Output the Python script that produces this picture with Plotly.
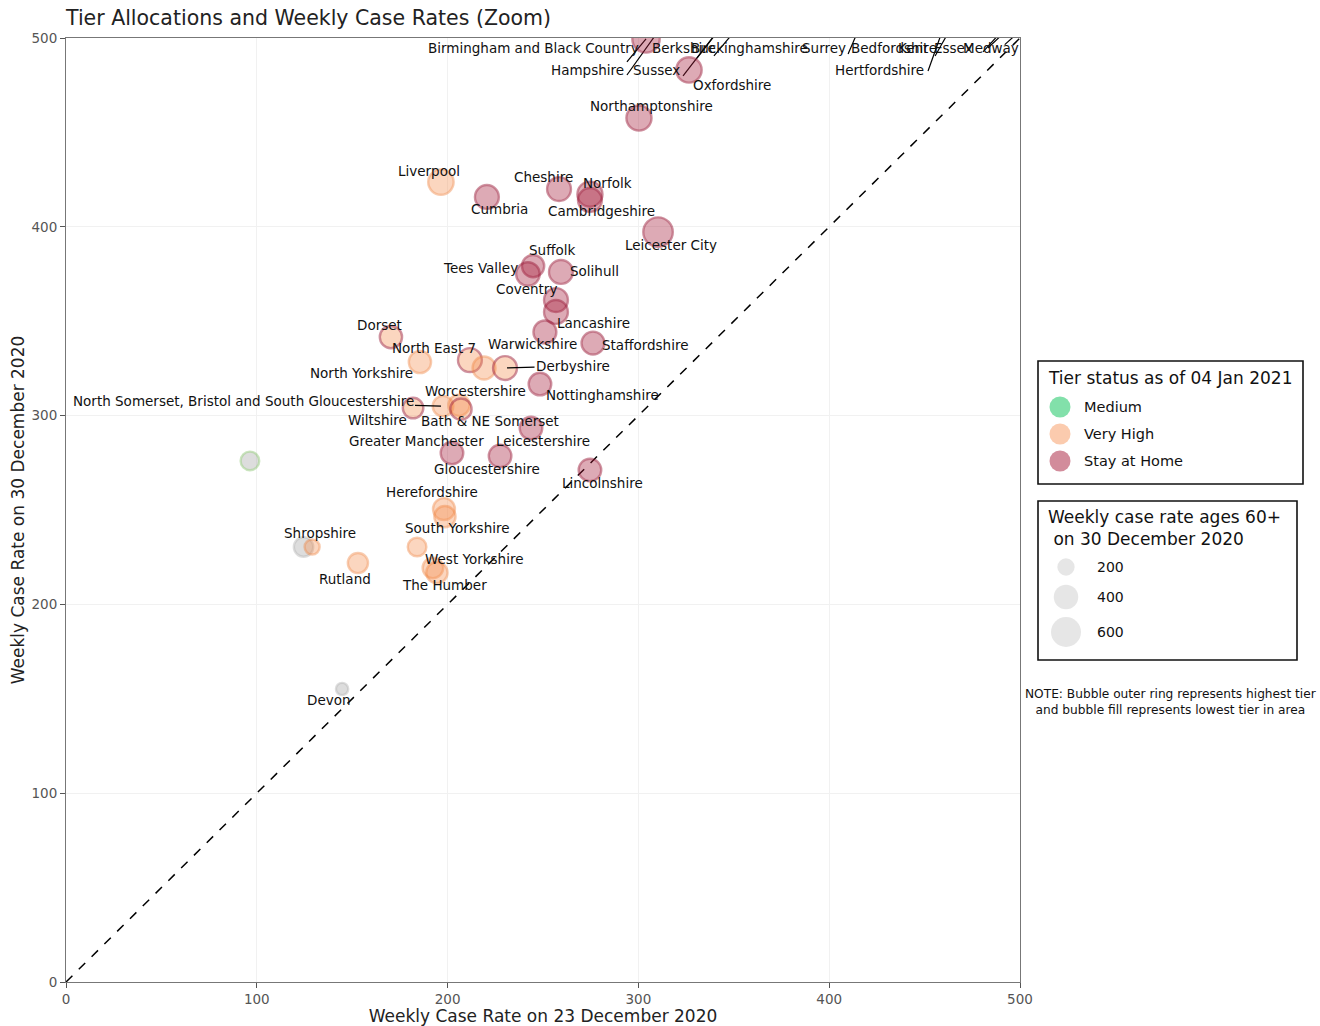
import plotly.graph_objects as go

# ---------------- data ----------------
names = [
    "Liverpool", "Cumbria", "Cheshire", "Norfolk", "Cambridgeshire", "Leicester City",
    "Northamptonshire", "Oxfordshire", "Suffolk", "Tees Valley", "Solihull", "Coventry",
    "Lancashire", "Warwickshire", "Staffordshire", "Dorset", "North Yorkshire", "North East 7",
    "", "Derbyshire", "Nottinghamshire",
    "North Somerset, Bristol and South Gloucestershire", "Worcestershire", "Bath & NE Somerset",
    "Wiltshire", "Leicestershire", "Gloucestershire", "Greater Manchester", "Lincolnshire",
    "Herefordshire", "", "South Yorkshire", "West Yorkshire", "The Humber", "Rutland",
    "Shropshire", "", "Devon", "",
]
x_dec23 = [
    196.5, 220.6, 258.4, 274.6, 274.6, 310.3,
    300.3, 326.5, 244.8, 242.1, 259.4, 256.8,
    256.8, 251.0, 276.2, 170.3, 185.5, 211.7,
    219.1, 230.1, 248.4,
    197.6, 206.0, 207.0,
    181.9, 243.7, 227.5, 202.3, 274.6,
    198.1, 198.6, 184.0, 192.3, 194.4, 153.0,
    124.5, 129.0, 144.7, 96.4,
]
y_dec30 = [
    423.7, 415.8, 420.0, 417.3, 414.2, 397.2,
    457.6, 483.1, 379.2, 375.0, 376.1, 361.2,
    354.9, 344.3, 338.4, 341.6, 328.4, 329.4,
    325.2, 325.2, 316.7,
    305.0, 305.5, 303.4,
    304.0, 293.4, 278.6, 280.2, 271.2,
    250.5, 246.5, 230.4, 219.3, 216.8, 221.9,
    230.4, 230.4, 155.2, 276.0,
]
rate60 = [
    430, 380, 380, 420, 380, 580,
    420, 430, 330, 370, 380, 380,
    380, 350, 350, 330, 330, 380,
    350, 380, 340,
    280, 300, 300,
    280, 340, 340, 340, 340,
    320, 300, 230, 280, 300, 270,
    250, 150, 100, 230,
]
fill_tier = [
    "Very High", "Stay at Home", "Stay at Home", "Stay at Home", "Stay at Home", "Stay at Home",
    "Stay at Home", "Stay at Home", "Stay at Home", "Stay at Home", "Stay at Home", "Stay at Home",
    "Stay at Home", "Stay at Home", "Stay at Home", "Very High", "Very High", "Very High",
    "Very High", "Very High", "Stay at Home",
    "Very High", "Very High", "Very High",
    "Very High", "Stay at Home", "Stay at Home", "Stay at Home", "Stay at Home",
    "Very High", "Very High", "Very High", "Very High", "Very High", "Very High",
    "N/A", "Very High", "N/A", "N/A",
]
ring_tier = [
    "Very High", "Stay at Home", "Stay at Home", "Stay at Home", "Stay at Home", "Stay at Home",
    "Stay at Home", "Stay at Home", "Stay at Home", "Stay at Home", "Stay at Home", "Stay at Home",
    "Stay at Home", "Stay at Home", "Stay at Home", "Stay at Home", "Very High", "Stay at Home",
    "Very High", "Stay at Home", "Stay at Home",
    "Very High", "Very High", "Stay at Home",
    "Stay at Home", "Stay at Home", "Stay at Home", "Stay at Home", "Stay at Home",
    "Very High", "Very High", "Very High", "Very High", "Very High", "Very High",
    "N/A", "Very High", "N/A", "Medium",
]

# areas whose rates lie at / beyond the top of the zoomed view
top_names = [
    "Birmingham and Black Country", "Hampshire", "Sussex", "Berkshire", "Buckinghamshire",
    "Surrey", "Bedfordshire", "Kent", "Essex", "Medway", "Hertfordshire",
]
top_x = [304.0, 322.0, 354.0, 356.0, 364.0, 422.0, 472.0, 505.0, 520.0, 540.0, 465.0]
top_y = [499.5, 520.0, 520.0, 522.0, 520.0, 520.0, 520.0, 520.0, 530.0, 540.0, 520.0]
top_rate60 = [500, 450, 430, 450, 450, 450, 450, 450, 450, 450, 450]
top_fill = ["Stay at Home"] * 11
top_ring = ["Stay at Home"] * 11

diag = [0, 500]
axis_ticks = [0, 100, 200, 300, 400, 500]
tiers = ["Medium", "Very High", "Stay at Home"]
size_legend_values = [200, 400, 600]

# ---------------- styling ----------------
FILL = {"Medium": "rgba(46,204,113,0.55)", "Very High": "rgba(246,140,75,0.5)",
        "Stay at Home": "rgba(165,25,55,0.52)", "N/A": "rgba(150,150,150,0.45)"}
RING = {"Medium": "rgba(120,190,90,0.55)", "Very High": "rgba(240,130,60,0.58)",
        "Stay at Home": "rgba(150,20,50,0.65)", "N/A": "rgba(150,150,150,0.45)"}
LEG_FILL = {"Medium": "rgba(46,204,113,0.6)", "Very High": "rgba(246,140,75,0.45)",
            "Stay at Home": "rgba(165,25,55,0.5)"}
SIZEREF = 2 * 600 / 30 ** 2
FONT = "DejaVu Sans"
LBL = 13.5

W, H = 1320, 1026
ML, MT = 66, 38
PW, PH = 954, 944

# label offsets (pixels, dx right, dy down) relative to bubble centre
label_offsets = {
    "Liverpool": (-12, -11), "Cumbria": (13, 12), "Cheshire": (-16, -12), "Norfolk": (18, -11),
    "Cambridgeshire": (12, 11), "Leicester City": (13, 13), "Northamptonshire": (13, -12),
    "Oxfordshire": (43, 15), "Suffolk": (19, -16), "Tees Valley": (-47, -6), "Solihull": (34, -1),
    "Coventry": (-29, -11), "Lancashire": (38, 11), "Warwickshire": (-12, 12),
    "Staffordshire": (52, 2), "Dorset": (-11, -12), "North Yorkshire": (-58, 11),
    "North East 7": (-36, -12), "Nottinghamshire": (63, 11), "Worcestershire": (16, -14),
    "Bath & NE Somerset": (29, 12), "Wiltshire": (-36, 12), "Leicestershire": (12, 13),
    "Gloucestershire": (-13, 13), "Greater Manchester": (-35, -12), "Lincolnshire": (13, 13),
    "Herefordshire": (-12, -17), "South Yorkshire": (40, -19), "West Yorkshire": (41, -9),
    "The Humber": (8, 12), "Rutland": (-13, 16), "Shropshire": (16, -14), "Devon": (-13, 11),
}
arrow_labels = {"Derbyshire": (68, -2),
                "North Somerset, Bristol and South Gloucestershire": (-200, -5)}
# text position and connector start (data coords) for labels at the top edge
top_label_place = {
    "Birmingham and Black Country": (244.8, 494.7, 294.0, 487.3),
    "Hampshire": (273.1, 483.1, 294.0, 480.4),
    "Sussex": (309.7, 483.1, 323.4, 479.9),
    "Berkshire": (323.9, 494.7, 330.7, 489.4),
    "Buckinghamshire": (358.0, 494.7, 339.6, 490.5),
    "Surrey": (397.3, 494.7, 409.9, 491.5),
    "Bedfordshire": (434.0, 494.7, 455.5, 490.5),
    "Kent": (443.9, 494.7, 480.6, 492.6),
    "Essex": (464.9, 494.7, 483.2, 494.7),
    "Medway": (484.8, 494.7, 492.0, 496.5),
    "Hertfordshire": (426.6, 483.1, 451.8, 482.5),
}

fig = go.Figure()

# diagonal y = x
fig.add_trace(go.Scatter(x=diag, y=diag, mode="lines",
                         line=dict(color="black", width=1.5, dash="dash"),
                         hoverinfo="skip", showlegend=False))

# connectors for top labels
cx, cy = [], []
for n, px_, py_ in zip(top_names, top_x, top_y):
    tx, ty, lx, ly = top_label_place[n]
    cx += [lx, px_, None]
    cy += [ly, py_, None]
fig.add_trace(go.Scatter(x=cx, y=cy, mode="lines", line=dict(color="black", width=1.2),
                         hoverinfo="skip", showlegend=False))

all_names = names + top_names
all_x = x_dec23 + top_x
all_y = y_dec30 + top_y
all_rate = rate60 + top_rate60
all_fill = fill_tier + top_fill
all_ring = ring_tier + top_ring

fig.add_trace(go.Scatter(
    x=all_x, y=all_y, mode="markers", text=all_names,
    marker=dict(size=all_rate, sizemode="area", sizeref=SIZEREF,
                color=[FILL[t] for t in all_fill],
                line=dict(color=[RING[t] for t in all_ring], width=2.4)),
    hovertemplate="%{text}<br>23 Dec: %{x}<br>30 Dec: %{y}<extra></extra>",
    showlegend=False, cliponaxis=True))

annotations = []
for n, xv, yv in zip(names, x_dec23, y_dec30):
    if n in label_offsets:
        dx, dy = label_offsets[n]
        annotations.append(dict(x=xv, y=yv, xref="x", yref="y", text=n, showarrow=False,
                                xshift=dx, yshift=-dy, font=dict(size=LBL, color="#111", family=FONT)))
    elif n in arrow_labels:
        ax_, ay_ = arrow_labels[n]
        annotations.append(dict(x=xv, y=yv, xref="x", yref="y", text=n, showarrow=True,
                                ax=ax_, ay=ay_, arrowhead=0, arrowwidth=1.2, arrowcolor="black",
                                standoff=2, font=dict(size=LBL, color="#111", family=FONT)))
for n in top_names:
    tx, ty, lx, ly = top_label_place[n]
    annotations.append(dict(x=tx, y=ty, xref="x", yref="y", text=n, showarrow=False,
                            font=dict(size=LBL, color="#111", family=FONT)))

# ---------------- manual legends (on a hidden axis scaled in page pixels) ----------------
fig.add_trace(go.Scatter(
    x=[1060] * len(tiers), y=[407, 434, 461], mode="markers",
    marker=dict(size=21, color=[LEG_FILL[t] for t in tiers], line=dict(width=0)),
    xaxis="x2", yaxis="y2", hoverinfo="skip", showlegend=False))
fig.add_trace(go.Scatter(
    x=[1066] * len(size_legend_values), y=[567, 597, 632], mode="markers",
    marker=dict(size=size_legend_values, sizemode="area", sizeref=SIZEREF,
                color="rgba(175,175,175,0.45)", line=dict(width=0)),
    xaxis="x2", yaxis="y2", hoverinfo="skip", showlegend=False))

for t, yy in zip(tiers, [407, 434, 461]):
    annotations.append(dict(x=1082, y=yy, xref="x2", yref="y2", text=t, showarrow=False,
                            xanchor="left", font=dict(size=14.5, color="#111", family=FONT)))
for v, yy in zip(size_legend_values, [567, 597, 632]):
    annotations.append(dict(x=1095, y=yy, xref="x2", yref="y2", text=str(v), showarrow=False,
                            xanchor="left", font=dict(size=14, color="#111", family=FONT)))
annotations.append(dict(x=1046, y=378, xref="x2", yref="y2", text="Tier status as of 04 Jan 2021",
                        showarrow=False, xanchor="left", font=dict(size=17, color="#111", family=FONT)))
annotations.append(dict(x=1046, y=528, xref="x2", yref="y2",
                        text="Weekly case rate ages 60+<br> on 30 December 2020", align="left",
                        showarrow=False, xanchor="left", font=dict(size=17, color="#111", family=FONT)))
annotations.append(dict(x=1171, y=702, xref="x2", yref="y2",
                        text="NOTE: Bubble outer ring represents highest tier<br>and bubble fill represents lowest tier in area",
                        align="center", showarrow=False, xanchor="center",
                        font=dict(size=12.2, color="#111", family=FONT)))

shapes = [
    dict(type="rect", xref="x2", yref="y2", x0=1038, x1=1303, y0=361, y1=484,
         line=dict(color="#111", width=1.6), fillcolor="rgba(0,0,0,0)"),
    dict(type="rect", xref="x2", yref="y2", x0=1038, x1=1297, y0=501, y1=660,
         line=dict(color="#111", width=1.6), fillcolor="rgba(0,0,0,0)"),
]

paper_w = W - ML
fig.update_layout(
    width=W, height=H,
    margin=dict(l=ML, r=0, t=MT, b=H - MT - PH, autoexpand=False),
    paper_bgcolor="white", plot_bgcolor="white",
    font=dict(family=FONT, color="#222"),
    title=dict(text="Tier Allocations and Weekly Case Rates (Zoom)", x=ML / W, xanchor="left",
               y=1 - 18 / H, yanchor="middle", font=dict(size=20.5, color="#222", family=FONT)),
    xaxis=dict(domain=[0, PW / paper_w], range=[0, 500], tickvals=axis_ticks,
               ticks="outside", ticklen=5, tickcolor="#555", tickfont=dict(size=13.5, color="#555"),
               showline=True, linecolor="#777", linewidth=1, mirror=True,
               showgrid=True, gridcolor="#f1f1f1", zeroline=False,
               title=dict(text="Weekly Case Rate on 23 December 2020", standoff=4,
                          font=dict(size=17, color="#222"))),
    yaxis=dict(domain=[0, 1], range=[0, 500], tickvals=axis_ticks,
               ticks="outside", ticklen=5, tickcolor="#555", tickfont=dict(size=13.5, color="#555"),
               showline=True, linecolor="#777", linewidth=1, mirror=True,
               showgrid=True, gridcolor="#f1f1f1", zeroline=False,
               title=dict(text="Weekly Case Rate on 30 December 2020", standoff=2,
                          font=dict(size=17, color="#222"))),
    xaxis2=dict(domain=[PW / paper_w, 1], range=[ML + PW, W], visible=False, anchor="y2",
                fixedrange=True),
    yaxis2=dict(domain=[0, 1], range=[MT + PH, MT], visible=False, anchor="x2", fixedrange=True),
    annotations=annotations,
    shapes=shapes,
    showlegend=False,
)

# remove the browser's default 8px body margin so the 1320x1026 figure fills the window exactly
fig.write_html("out.html", config={"displayModeBar": False},
               post_script="document.body.style.margin='0px';document.body.style.overflow='hidden';")
